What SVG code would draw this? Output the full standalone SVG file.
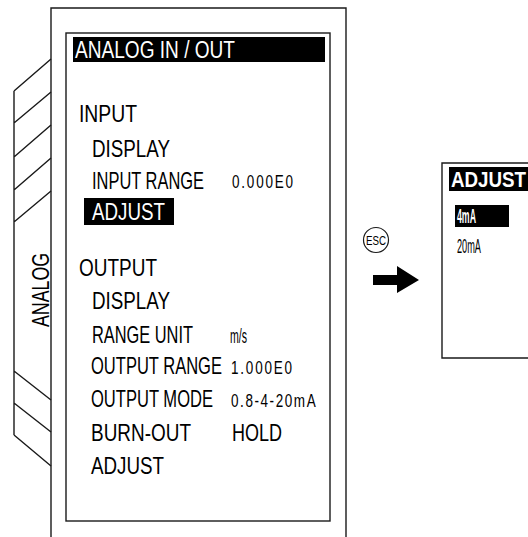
<svg xmlns="http://www.w3.org/2000/svg" width="528" height="537" viewBox="0 0 528 537">
<style>
.ln{fill:none;stroke:#1a1a1a;stroke-width:1.4}
.t{font-family:"Liberation Sans",Arial,sans-serif;font-size:24px;fill:#000}
.w{fill:#fff}
.v{font-family:"Liberation Sans",Arial,sans-serif;font-size:18px;fill:#000}
.b{font-weight:bold}
</style>
<rect width="528" height="537" fill="#fff"/>
<g id="device">
<path class="ln" d="M51,537 V8 H346 V537"/>
<path class="ln" d="M14,91 V435 M14,91 L51,59 M14,123 L51,92 M14,157 L51,125 M14,190 L51,158 M14,222 L51,191 M14,371 L51,400 M14,403 L51,432 M14,435 L51,466"/>
<text class="t" transform="translate(49,327) rotate(-90)" textLength="74" lengthAdjust="spacingAndGlyphs">ANALOG</text>
</g>
<g id="screen">
<rect class="ln" x="66" y="33" width="264" height="488"/>
<rect x="73" y="37" width="252" height="25" fill="#000"/>
<text class="t w" x="75" y="58" style="font-size:23px" textLength="160" lengthAdjust="spacingAndGlyphs">ANALOG IN / OUT</text>
<text class="t" x="79" y="122" textLength="58" lengthAdjust="spacingAndGlyphs">INPUT</text>
<text class="t" x="92" y="157" textLength="78" lengthAdjust="spacingAndGlyphs">DISPLAY</text>
<text class="t" x="92" y="189" textLength="112" lengthAdjust="spacingAndGlyphs">INPUT RANGE</text>
<text class="v" transform="translate(232,188) scale(0.75,1)" letter-spacing="2.4">0.000E0</text>
<rect x="84" y="198" width="90" height="27" fill="#000"/>
<text class="t w" x="92" y="220" textLength="73" lengthAdjust="spacingAndGlyphs">ADJUST</text>
<text class="t" x="79" y="276" textLength="78" lengthAdjust="spacingAndGlyphs">OUTPUT</text>
<text class="t" x="92" y="309" textLength="78" lengthAdjust="spacingAndGlyphs">DISPLAY</text>
<text class="t" x="92" y="343" textLength="101" lengthAdjust="spacingAndGlyphs">RANGE UNIT</text>
<text class="v" x="230" y="343" style="font-size:21px" textLength="17" lengthAdjust="spacingAndGlyphs">m/s</text>
<text class="t" x="91" y="374" textLength="131" lengthAdjust="spacingAndGlyphs">OUTPUT RANGE</text>
<text class="v" transform="translate(231,374) scale(0.75,1)" letter-spacing="2.4">1.000E0</text>
<text class="t" x="91" y="407" textLength="122" lengthAdjust="spacingAndGlyphs">OUTPUT MODE</text>
<text class="v" transform="translate(231,407) scale(0.75,1)" letter-spacing="2.1">0.8-4-20mA</text>
<text class="t" x="91" y="441" textLength="100" lengthAdjust="spacingAndGlyphs">BURN-OUT</text>
<text class="t" x="232" y="441" textLength="50" lengthAdjust="spacingAndGlyphs">HOLD</text>
<text class="t" x="91" y="474" textLength="73" lengthAdjust="spacingAndGlyphs">ADJUST</text>
</g>
<g id="esc">
<circle cx="376" cy="240" r="12.5" fill="#fff" stroke="#1a1a1a" stroke-width="1.2"/>
<text x="376" y="244.5" text-anchor="middle" font-family="Liberation Sans,Arial,sans-serif" font-size="12.5" textLength="20" lengthAdjust="spacingAndGlyphs">ESC</text>
</g>
<g id="connectors">
<path d="M373,275 H397 V266 L419,280 L397,293 V285 H373 Z" fill="#000"/>
</g>
<g id="adjust-panel">
<path class="ln" d="M540,163 H442 V358 H540"/>
<rect x="449" y="167" width="79" height="24" fill="#000"/>
<text class="t w b" x="451" y="187" style="font-size:22px" textLength="75" lengthAdjust="spacingAndGlyphs">ADJUST</text>
<rect x="455" y="205" width="54" height="22" fill="#000"/>
<text class="t w b" x="457" y="223" style="font-size:20px" textLength="19" lengthAdjust="spacingAndGlyphs">4mA</text>
<text class="t" x="457" y="253" style="font-size:20px" textLength="24" lengthAdjust="spacingAndGlyphs">20mA</text>
</g>
</svg>
